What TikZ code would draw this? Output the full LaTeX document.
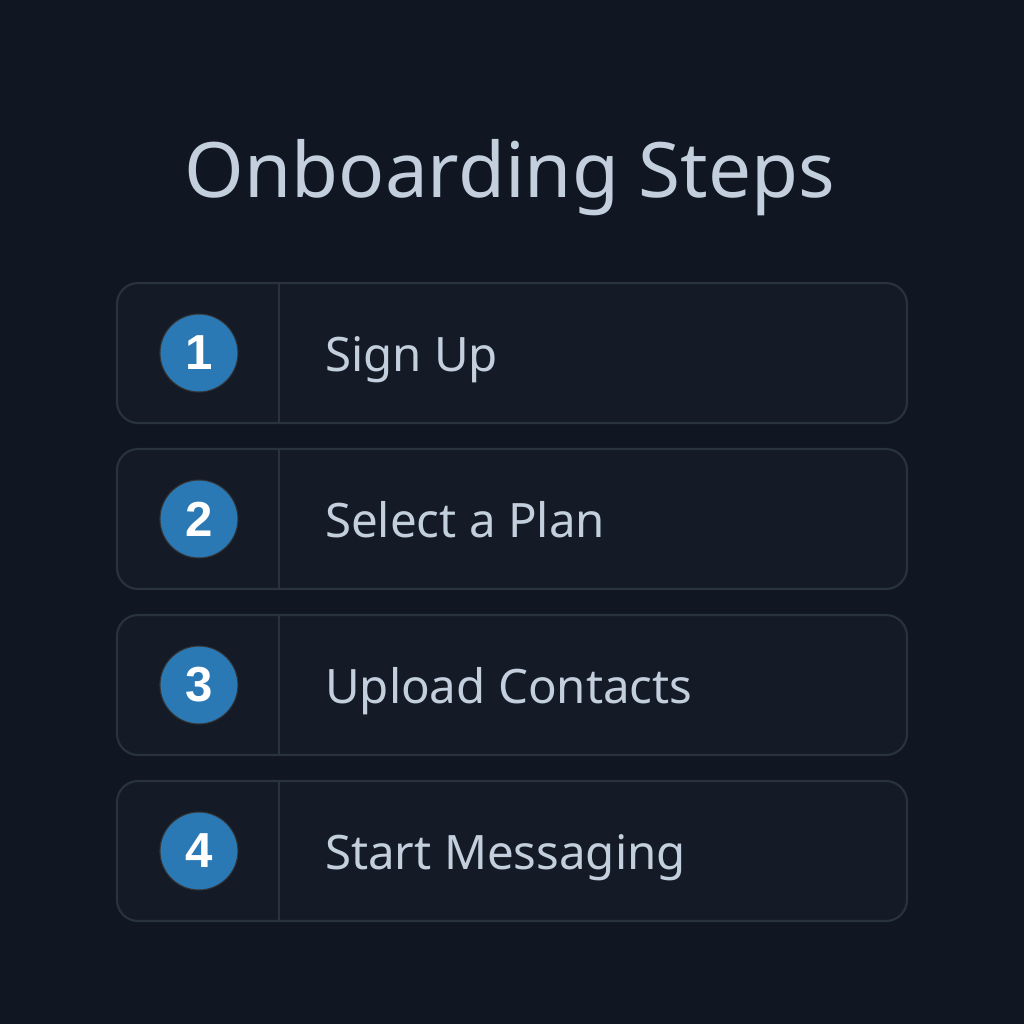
\documentclass[tikz,border=0pt]{standalone}
\usepackage{fontspec}
\setmainfont{Noto Sans}
\newfontfamily\badgefont{Liberation Sans}
\usepackage{tikz}
\usetikzlibrary{positioning}

\definecolor{pagebg}{HTML}{101722}
\definecolor{cardbg}{HTML}{141B26}
\definecolor{cardline}{HTML}{29333F}
\definecolor{stepblue}{HTML}{2A79B4}
\definecolor{labelgray}{HTML}{C3CFDD}

\tikzset{
  card/.style={draw=cardline,line width=1.2pt,fill=cardbg,rounded corners=12pt,
    minimum width=15.8cm,minimum height=2.8cm},
  badge/.style={circle,fill=stepblue,draw=black!80,line width=0.6pt,minimum size=1.56cm,
    inner sep=0pt,text=white,font=\badgefont\fontsize{28}{28}\selectfont\bfseries},
  steplabel/.style={anchor=base west,text=labelgray,font=\fontsize{27}{27}\selectfont}
}

\begin{document}
\begin{tikzpicture}
\fill[pagebg] (0,0) rectangle (20.48,-20.48);
\useasboundingbox (0,0) rectangle (20.48,-20.48);

\node[anchor=base,text=labelgray,font=\fontsize{43.5}{44}\selectfont] (title) at (10.2,-3.94) {Onboarding Steps};

% the four cards
\node[card] (c1) at (10.24,-7.06) {};
\node[card] (c2) at (10.24,-10.38) {};
\node[card] (c3) at (10.24,-13.70) {};
\node[card] (c4) at (10.24,-17.02) {};

\draw[cardline,line width=1.2pt] ([xshift=3.26cm]c1.north west) -- ([xshift=3.26cm]c1.south west);
\draw[cardline,line width=1.2pt] ([xshift=3.26cm]c2.north west) -- ([xshift=3.26cm]c2.south west);
\draw[cardline,line width=1.2pt] ([xshift=3.26cm]c3.north west) -- ([xshift=3.26cm]c3.south west);
\draw[cardline,line width=1.2pt] ([xshift=3.26cm]c4.north west) -- ([xshift=3.26cm]c4.south west);

\node[badge] (b1) at ([xshift=1.66cm]c1.west) {1};
\node[badge] (b2) at ([xshift=1.66cm]c2.west) {2};
\node[badge] (b3) at ([xshift=1.66cm]c3.west) {3};
\node[badge] (b4) at ([xshift=1.66cm]c4.west) {4};

\node[steplabel] (l1) at ([xshift=4.06cm,yshift=-0.36cm]c1.west) {Sign Up};
\node[steplabel] (l2) at ([xshift=4.06cm,yshift=-0.36cm]c2.west) {Select a Plan};
\node[steplabel] (l3) at ([xshift=4.06cm,yshift=-0.36cm]c3.west) {Upload Contacts};
\node[steplabel] (l4) at ([xshift=4.06cm,yshift=-0.36cm]c4.west) {Start Messaging};
\end{tikzpicture}
\end{document}
